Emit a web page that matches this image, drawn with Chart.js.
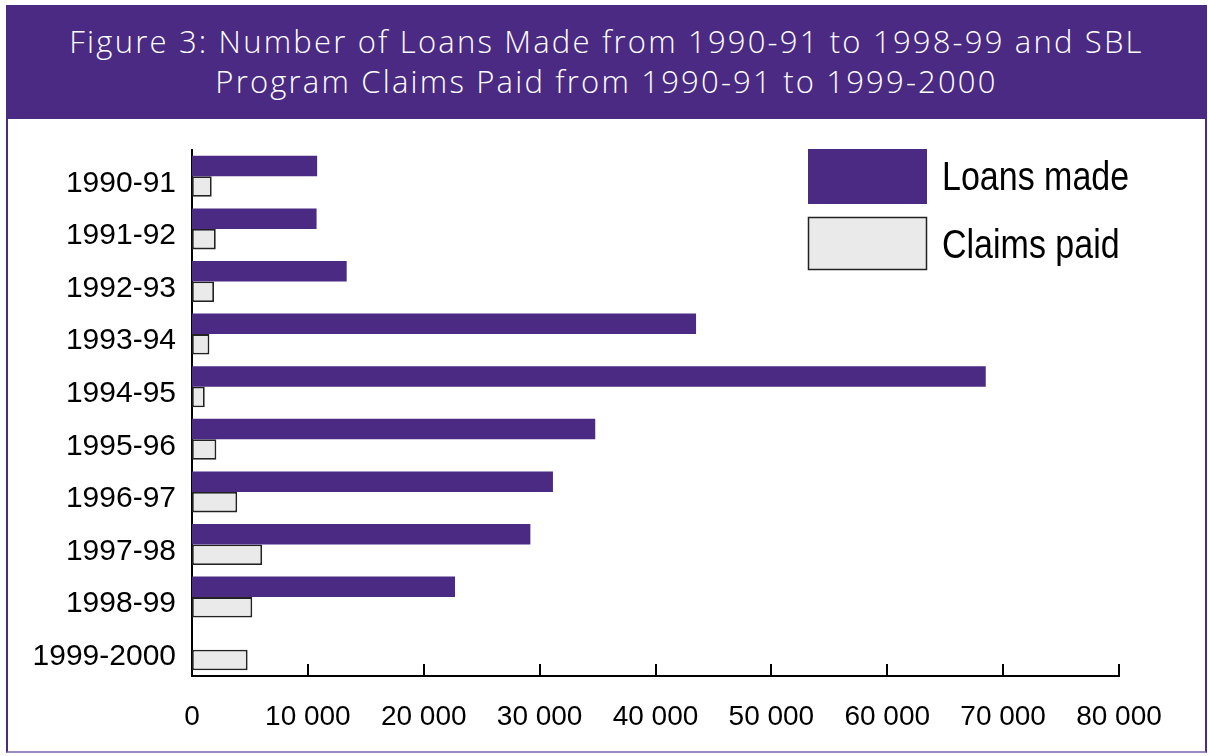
<!DOCTYPE html>
<html>
<head>
<meta charset="utf-8">
<script src="https://cdn.jsdelivr.net/npm/chart.js@4.4.1/dist/chart.umd.min.js"></script>
<style>
  html, body { margin: 0; padding: 0; background: #ffffff; }
  body { width: 1208px; height: 756px; position: relative; overflow: hidden; }
  #band {
    position: absolute; left: 6px; top: 5px; width: 1201px; height: 114px;
    background: #4b2a84; color: #ffffff;
    font-family: "Open Sans", sans-serif; font-weight: 300; font-size: 31px; letter-spacing: 2.2px;
    line-height: 40px; text-align: center; box-sizing: border-box; padding-top: 16px;
  }
  #frame {
    position: absolute; left: 6px; top: 119px; width: 1201px; height: 634px;
    box-sizing: border-box; border-left: 2px solid #4b2a84; border-right: 2px solid #4b2a84;
    border-bottom: 2px solid #9a88c4;
  }
  #wrap { position: absolute; left: 8px; top: 120px; width: 1198px; height: 632px; }
</style>
</head>
<body>
<div id="band">Figure 3: Number of Loans Made from 1990-91 to 1998-99 and SBL<br>Program Claims Paid from 1990-91 to 1999-2000</div>
<div id="frame"></div>
<div id="wrap"><canvas id="c"></canvas></div>
<script>
const categories = ["1990-91","1991-92","1992-93","1993-94","1994-95","1995-96","1996-97","1997-98","1998-99","1999-2000"];
const loansMade = [10800, 10750, 13350, 43500, 68500, 34800, 31150, 29200, 22700, null];
const claimsPaid = [1700, 2050, 1900, 1500, 1100, 2100, 3900, 6050, 5200, 4800];
const xTicks = [0, 10000, 20000, 30000, 40000, 50000, 60000, 70000, 80000];
const seriesNames = ["Loans made", "Claims paid"];

const FONT = '"Liberation Sans", Arial, sans-serif';

const upTicks = {
  id: 'upTicks',
  afterDatasetsDraw(chart) {
    const x = chart.scales.x, ctx = chart.ctx;
    const y0 = chart.chartArea.bottom;
    ctx.save();
    ctx.strokeStyle = '#000'; ctx.lineWidth = 2;
    xTicks.forEach(v => {
      if (v === 0) return;
      const px = Math.round(x.getPixelForValue(v));
      ctx.beginPath(); ctx.moveTo(px, y0); ctx.lineTo(px, y0 - 12); ctx.stroke();
    });
    ctx.restore();
  }
};

const boxLegend = {
  id: 'boxLegend',
  afterDraw(chart) {
    const ctx = chart.ctx;
    const ds = chart.data.datasets;
    const bx = 800, bw = 119, bh = 55, rows = [29, 97], textX = 934;
    ctx.save();
    ds.forEach((d, i) => {
      const y = rows[i];
      ctx.fillStyle = d.backgroundColor;
      ctx.fillRect(bx, y, bw, bh - (i ? 2 : 0));
      if (d.borderWidth) {
        ctx.strokeStyle = d.borderColor; ctx.lineWidth = 1.5;
        ctx.strokeRect(bx + 0.5, y + 0.5, bw - 1, bh - 3);
      }
      ctx.save();
      ctx.translate(textX, y + 30);
      ctx.scale(0.85, 1);
      ctx.fillStyle = '#000';
      ctx.font = '40px ' + FONT;
      ctx.textBaseline = 'middle';
      ctx.fillText(d.label, 0, 0);
      ctx.restore();
    });
    ctx.restore();
  }
};

new Chart(document.getElementById('c'), {
  type: 'bar',
  data: {
    labels: categories,
    datasets: [
      { label: seriesNames[0], data: loansMade, backgroundColor: '#4b2a84', borderColor: '#8f7cc0', borderWidth: 0 },
      { label: seriesNames[1], data: claimsPaid, backgroundColor: '#eaeaea', borderColor: '#222222', borderWidth: 1.8, borderSkipped: false }
    ]
  },
  options: {
    indexAxis: 'y',
    responsive: true,
    maintainAspectRatio: false,
    animation: false,
    datasets: { bar: { categoryPercentage: 0.78, barPercentage: 1.0 } },
    layout: { padding: { left: 0, top: 30, right: 87, bottom: 0 } },
    plugins: { legend: { display: false }, tooltip: { enabled: false }, title: { display: false } },
    scales: {
      x: {
        min: 0, max: 80000,
        afterBuildTicks(s) { s.ticks = xTicks.map(v => ({ value: v })); },
        afterFit(s) { s.height = 76; },
        grid: { display: false },
        border: { display: true, color: '#000', width: 2 },
        ticks: {
          color: '#000', padding: 16, maxRotation: 0, autoSkip: false,
          font: { family: FONT, size: 28 },
          callback: v => String(v).replace(/\B(?=(\d{3})+(?!\d))/g, ' ')
        }
      },
      y: {
        afterFit(s) { s.width = 184; },
        grid: { display: false },
        border: { display: true, color: '#000', width: 2 },
        ticks: { color: '#000', padding: 8, labelOffset: 7, font: { family: FONT, size: 30 } }
      }
    }
  },
  plugins: [upTicks, boxLegend]
});
</script>
</body>
</html>
